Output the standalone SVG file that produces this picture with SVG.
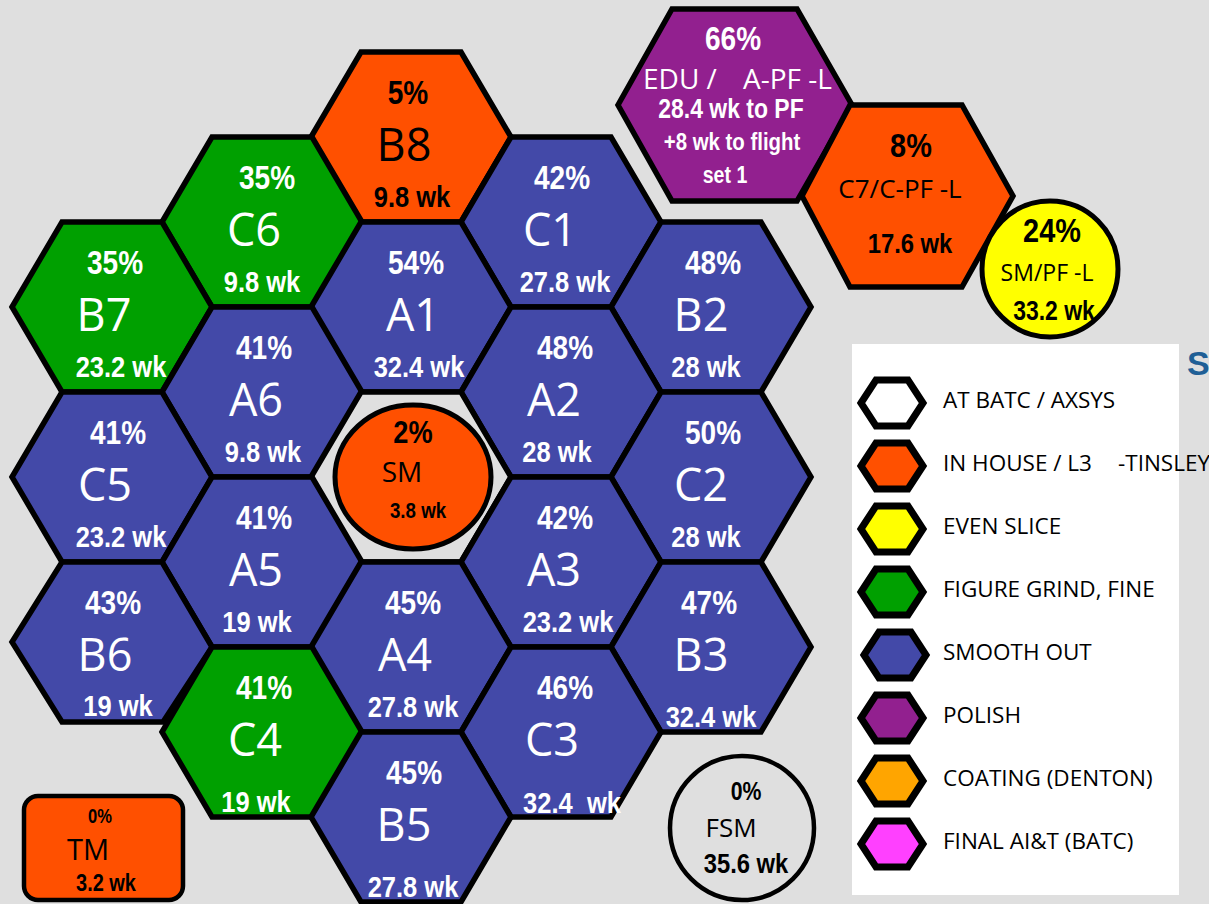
<svg xmlns="http://www.w3.org/2000/svg" xmlns:xlink="http://www.w3.org/1999/xlink" width="1209" height="904" viewBox="0 0 1209 904">
<style>
.hx{stroke:#000;stroke-width:5.5;stroke-linejoin:miter}
.bl{fill:#4349A8}.gr{fill:#00A000}.or{fill:#FF5000}.pu{fill:#92208F}.ye{fill:#FFFF00}.bg{fill:#DFDFDF}
.p{font-family:"Liberation Sans",Arial,sans-serif;font-weight:bold;font-size:33px;text-anchor:middle}
.q{font-family:"Liberation Sans",Arial,sans-serif;font-weight:bold;font-size:30px;text-anchor:middle}
.L{font-family:"Open Sans","Noto Sans",sans-serif;font-size:45px;text-anchor:middle}
.r{font-family:"Open Sans","Noto Sans",sans-serif;text-anchor:middle}
.w{fill:#fff}.k{fill:#000}
.lg{font-family:"Open Sans","Noto Sans",sans-serif;font-size:22.5px;fill:#000}
.li{stroke:#000;stroke-width:7;stroke-linejoin:miter}
</style>
<defs>
<polygon id="hx" points="-100,0 -50,-85 50,-85 100,0 50,85 -50,85"/>
<polygon id="lh" points="-31,0 -16,-23 16,-23 31,0 16,23 -16,23"/>
</defs>
<rect width="1209" height="904" fill="#DFDFDF"/>

<g id="B8"><use href="#hx" x="411" y="137" class="hx or"/><text class="p k" transform="translate(408 104) scale(.85 1)">5%</text><text class="L k" x="404" y="161">B8</text><text class="q k" transform="translate(412 207) scale(.85 1)">9.8 wk</text></g>
<g id="C6"><use href="#hx" x="262" y="222" class="hx gr"/><text class="p w" transform="translate(267 189) scale(.85 1)">35%</text><text class="L w" x="254" y="246">C6</text><text class="q w" transform="translate(262 292) scale(.85 1)">9.8 wk</text></g>
<g id="C1"><use href="#hx" x="561" y="222" class="hx bl"/><text class="p w" transform="translate(562 189) scale(.85 1)">42%</text><text class="L w" x="550" y="246">C1</text><text class="q w" transform="translate(565 292) scale(.85 1)">27.8 wk</text></g>
<g id="B7"><use href="#hx" x="112" y="307" class="hx gr"/><text class="p w" transform="translate(115 274) scale(.85 1)">35%</text><text class="L w" x="104" y="331">B7</text><text class="q w" transform="translate(121 377) scale(.85 1)">23.2 wk</text></g>
<g id="A1"><use href="#hx" x="411" y="307" class="hx bl"/><text class="p w" transform="translate(416 274) scale(.85 1)">54%</text><text class="L w" x="413" y="331">A1</text><text class="q w" transform="translate(419 377) scale(.85 1)">32.4 wk</text></g>
<g id="B2"><use href="#hx" x="711" y="307" class="hx bl"/><text class="p w" transform="translate(713 274) scale(.85 1)">48%</text><text class="L w" x="701" y="331">B2</text><text class="q w" transform="translate(706 377) scale(.85 1)">28 wk</text></g>
<g id="A6"><use href="#hx" x="262" y="392" class="hx bl"/><text class="p w" transform="translate(264 359) scale(.85 1)">41%</text><text class="L w" x="256" y="416">A6</text><text class="q w" transform="translate(263 462) scale(.85 1)">9.8 wk</text></g>
<g id="A2"><use href="#hx" x="561" y="392" class="hx bl"/><text class="p w" transform="translate(565 359) scale(.85 1)">48%</text><text class="L w" x="554" y="416">A2</text><text class="q w" transform="translate(557 462) scale(.85 1)">28 wk</text></g>
<g id="C5"><use href="#hx" x="112" y="477" class="hx bl"/><text class="p w" transform="translate(118 444) scale(.85 1)">41%</text><text class="L w" x="105" y="501">C5</text><text class="q w" transform="translate(121 547) scale(.85 1)">23.2 wk</text></g>
<g id="SM"><use href="#hx" x="411" y="477" class="hx bg"/><ellipse cx="413" cy="477" rx="78" ry="72" fill="#FF5000" stroke="#000" stroke-width="5"/><text class="p k" transform="translate(413 443) scale(.85 1)" style="font-size:32px">2%</text><text class="r k" x="402" y="482" style="font-size:28px">SM</text><text class="q k" transform="translate(418 518) scale(.85 1)" style="font-size:22px">3.8 wk</text></g>
<g id="C2"><use href="#hx" x="711" y="477" class="hx bl"/><text class="p w" transform="translate(713 444) scale(.85 1)">50%</text><text class="L w" x="701" y="501">C2</text><text class="q w" transform="translate(706 547) scale(.85 1)">28 wk</text></g>
<g id="A5"><use href="#hx" x="262" y="562" class="hx bl"/><text class="p w" transform="translate(264 529) scale(.85 1)">41%</text><text class="L w" x="256" y="586">A5</text><text class="q w" transform="translate(257 632) scale(.85 1)">19 wk</text></g>
<g id="A3"><use href="#hx" x="561" y="562" class="hx bl"/><text class="p w" transform="translate(565 529) scale(.85 1)">42%</text><text class="L w" x="554" y="586">A3</text><text class="q w" transform="translate(568 632) scale(.85 1)">23.2 wk</text></g>
<g id="B6"><polygon class="hx bl" points="12,642 62,562 162,562 212,647 163,722 62,722"/><text class="p w" transform="translate(113 614) scale(.85 1)">43%</text><text class="L w" x="105" y="671">B6</text><text class="q w" transform="translate(118 716) scale(.85 1)">19 wk</text></g>
<g id="A4"><use href="#hx" x="411" y="647" class="hx bl"/><text class="p w" transform="translate(413 614) scale(.85 1)">45%</text><text class="L w" x="405" y="671">A4</text><text class="q w" transform="translate(413 717) scale(.85 1)">27.8 wk</text></g>
<g id="B3"><use href="#hx" x="711" y="647" class="hx bl"/><text class="p w" transform="translate(709 614) scale(.85 1)">47%</text><text class="L w" x="701" y="671">B3</text><text class="q w" transform="translate(711 727) scale(.85 1)">32.4 wk</text></g>
<g id="C4"><use href="#hx" x="262" y="732" class="hx gr"/><text class="p w" transform="translate(264 699) scale(.85 1)">41%</text><text class="L w" x="255" y="756">C4</text><text class="q w" transform="translate(256 812) scale(.85 1)">19 wk</text></g>
<g id="C3"><use href="#hx" x="561" y="732" class="hx bl"/><text class="p w" transform="translate(565 699) scale(.85 1)">46%</text><text class="L w" x="552" y="756">C3</text><text class="q w" transform="translate(572 813) scale(.85 1)" xml:space="preserve">32.4  wk</text></g>
<g id="B5"><use href="#hx" x="411" y="817" class="hx bl"/><text class="p w" transform="translate(414 784) scale(.85 1)">45%</text><text class="L w" x="404" y="841">B5</text><text class="q w" transform="translate(413 897) scale(.85 1)">27.8 wk</text></g>

<g id="EDU"><polygon class="hx pu" points="618,105 672,9 797,9 852,105 797,201 672,201"/><text class="p w" transform="translate(733 50) scale(.85 1)">66%</text><text class="r w" style="font-size:28px;text-anchor:start" xml:space="preserve"><tspan x="643" y="89">EDU /</tspan><tspan x="743" y="89">A-PF -L</tspan></text><text class="q w" transform="translate(731 118) scale(.85 1)" style="font-size:27px">28.4 wk to PF</text><text class="q w" transform="translate(732 150) scale(.85 1)" style="font-size:24px">+8 wk to flight</text><text class="q w" transform="translate(725 183) scale(.85 1)" style="font-size:23px">set 1</text></g>
<g id="C7"><polygon class="hx or" points="802,196 850,105 962,105 1013,196 962,287 850,287"/><text class="p k" transform="translate(911 157) scale(.85 1)" style="font-size:34px">8%</text><text class="r k" x="900" y="198" style="font-size:26px">C7/C-PF -L</text><text class="q k" transform="translate(910 253) scale(.85 1)" style="font-size:28px">17.6 wk</text></g>
<g id="SMPF"><circle cx="1050" cy="269" r="68" class="ye" stroke="#000" stroke-width="5"/><text class="p k" transform="translate(1052 242) scale(.85 1)" style="font-size:34px">24%</text><text class="r k" x="1047" y="281" style="font-size:23px">SM/PF -L</text><text class="q k" transform="translate(1054 320) scale(.85 1)" style="font-size:27px">33.2 wk</text></g>

<g id="TM"><rect x="24" y="796" width="159" height="104" rx="14" fill="#FF5000" stroke="#000" stroke-width="4.5"/><text class="p k" transform="translate(100 823) scale(.85 1)" style="font-size:19.5px">0%</text><text class="r k" x="88" y="860" style="font-size:29px">TM</text><text class="q k" transform="translate(106 891) scale(.85 1)" style="font-size:23.5px">3.2 wk</text></g>
<g id="FSM"><circle cx="742" cy="828" r="72" fill="none" stroke="#000" stroke-width="4.5"/><text class="p k" transform="translate(746 800) scale(.85 1)" style="font-size:25px">0%</text><text class="r k" x="731" y="837" style="font-size:26px">FSM</text><text class="q k" transform="translate(746 873) scale(.85 1)" style="font-size:28px">35.6 wk</text></g>

<g id="legend">
<rect x="852" y="344" width="327" height="551" fill="#fff"/>
<use href="#lh" x="892" y="403" class="li" fill="#fff"/>
<use href="#lh" x="892" y="466" class="li" fill="#FF5000"/>
<use href="#lh" x="892" y="529" class="li" fill="#FFFF00"/>
<use href="#lh" x="892" y="592" class="li" fill="#00A000"/>
<use href="#lh" x="895" y="655" class="li" fill="#4349A8"/>
<use href="#lh" x="892" y="718" class="li" fill="#92208F"/>
<use href="#lh" x="892" y="781" class="li" fill="#FFA500"/>
<use href="#lh" x="892" y="844" class="li" fill="#FF40FF"/>
<text class="lg" x="943" y="408">AT BATC / AXSYS</text>
<text class="lg" y="471"><tspan x="943">IN HOUSE / L3</tspan><tspan x="1118">-TINSLEY</tspan></text>
<text class="lg" x="943" y="534">EVEN SLICE</text>
<text class="lg" x="943" y="597">FIGURE GRIND, FINE</text>
<text class="lg" x="943" y="660">SMOOTH OUT</text>
<text class="lg" x="943" y="723">POLISH</text>
<text class="lg" x="943" y="786">COATING (DENTON)</text>
<text class="lg" x="943" y="849">FINAL AI&amp;T (BATC)</text>
</g>
<text x="1187" y="375" style="font-family:'Liberation Sans',Arial,sans-serif;font-weight:bold;font-size:34px;fill:#1F5F96">S</text>
</svg>
